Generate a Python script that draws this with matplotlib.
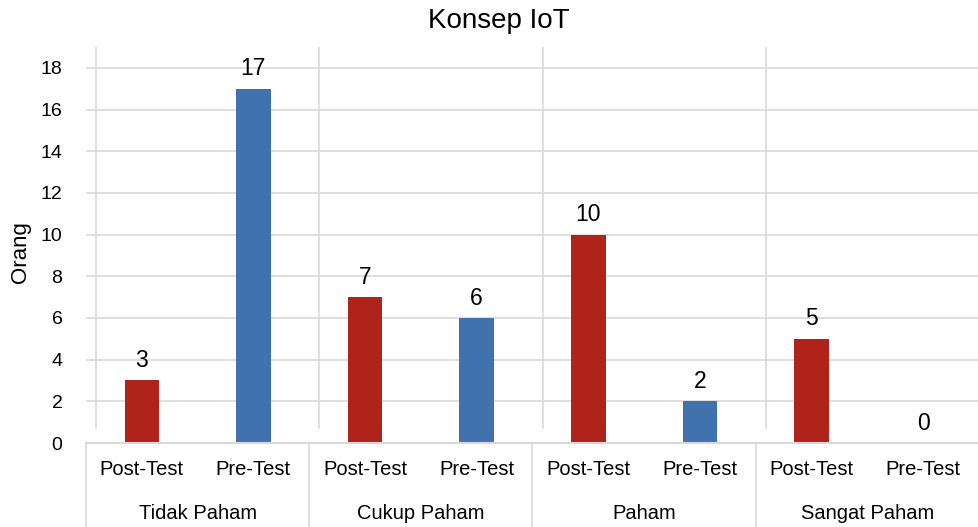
import matplotlib.pyplot as plt
import numpy as np

# data
groups = ["Tidak Paham", "Cukup Paham", "Paham", "Sangat Paham"]
tests = ["Post-Test", "Pre-Test"]
post_test = [3, 7, 10, 5]
pre_test = [17, 6, 2, 0]

red = "#B0231A"
blue = "#4172AE"
grid_c = "#D9D9D9"

plt.rcParams["font.family"] = ["Liberation Sans", "DejaVu Sans"]

fig = plt.figure(figsize=(9.79, 5.27), dpi=100)
ax = fig.add_axes([86 / 979, 1 - 443 / 527, 1 - 86 / 979, (443 - 47) / 527])

values = []
colors = []
for p, q in zip(post_test, pre_test):
    values += [p, q]
    colors += [red, blue]
x = np.arange(len(values))

ax.set_xlim(-0.5, len(values) - 0.5)
ax.set_ylim(0, 19)

# gridlines
for yv in range(2, 19, 2):
    ax.axhline(yv, color=grid_c, lw=1.2, zorder=0)
for i in range(len(groups)):
    ax.plot([2 * i - 0.5 + 0.09] * 2, [0.72, 19], color=grid_c, lw=1.2, zorder=0)

bars = ax.bar(x, values, width=0.31, color=colors, zorder=2)
for xi, v in zip(x, values):
    ax.annotate(str(v), (xi, v), xytext=(0, 6), textcoords="offset points",
                ha="center", va="bottom", fontsize=16.5)

for s in ax.spines.values():
    s.set_visible(False)
ax.set_xticks([])
ax.set_yticks(range(0, 19, 2))
ax.tick_params(axis="y", length=0, labelsize=14, pad=17)
fig.text(21 / 979, 1 - 252 / 527, "Orang", rotation=90, ha="center", va="center",
         fontsize=16)

# two-level category axis
tr = ax.get_xaxis_transform()
ax.plot([-0.5, len(values) - 0.5], [0, 0], color=grid_c, lw=1.5, transform=tr, clip_on=False)
for i in range(len(groups) + 1):
    ax.plot([2 * i - 0.5] * 2, [0, -0.25], color=grid_c, lw=1.2, transform=tr, clip_on=False)
for xi in x:
    ax.text(xi, -0.068, tests[xi % 2], transform=tr, ha="center", va="center", fontsize=14.5)
for i, g in enumerate(groups):
    ax.text(2 * i + 0.5, -0.177, g, transform=tr, ha="center", va="center", fontsize=14.5)

fig.text(499 / 979, 1 - 21 / 527, "Konsep IoT", ha="center", va="center", fontsize=20)

fig.savefig("out.png", dpi=100)
